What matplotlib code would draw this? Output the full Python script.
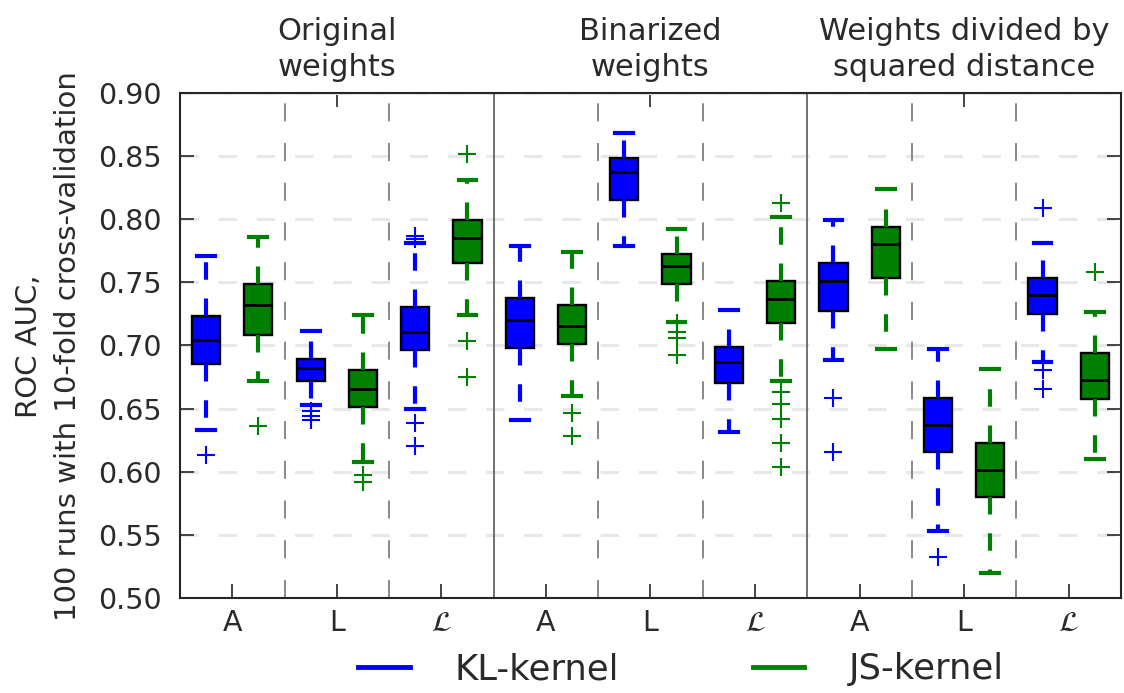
import matplotlib
matplotlib.use("Agg")
import matplotlib.pyplot as plt
from matplotlib.lines import Line2D
from matplotlib import transforms

# ---------------- data ----------------
group_labels = ["A", "L", r"$\mathcal{L}$"] * 3
panel_titles = ["Original\nweights", "Binarized\nweights", "Weights divided by\nsquared distance"]
series_names = ["KL-kernel", "JS-kernel"]
yticks = [0.50, 0.55, 0.60, 0.65, 0.70, 0.75, 0.80, 0.85, 0.90]

kl_q1 = [0.685, 0.672, 0.6963, 0.6984, 0.8152, 0.6703, 0.727, 0.6155, 0.7249]
kl_med = [0.704, 0.682, 0.711, 0.7203, 0.8372, 0.6869, 0.7511, 0.6369, 0.7398]
kl_q3 = [0.7235, 0.6896, 0.7302, 0.7377, 0.8487, 0.6989, 0.7652, 0.6583, 0.7537]
kl_lo = [0.633, 0.6527, 0.650, 0.6406, 0.7786, 0.6316, 0.6882, 0.5532, 0.6869]
kl_hi = [0.771, 0.7118, 0.781, 0.7786, 0.8687, 0.7283, 0.7997, 0.6976, 0.781]
kl_fliers = [[0.6135], [0.648, 0.644, 0.641], [0.7845, 0.787, 0.639, 0.6206], [], [], [],
             [0.6583, 0.6155], [0.5324], [0.8086, 0.6802, 0.6655]]

js_q1 = [0.7083, 0.6513, 0.7652, 0.7008, 0.7484, 0.7176, 0.7537, 0.580, 0.658]
js_med = [0.7324, 0.6655, 0.785, 0.7158, 0.7631, 0.7369, 0.780, 0.6013, 0.673]
js_q3 = [0.7489, 0.6802, 0.7992, 0.7324, 0.7725, 0.7511, 0.7939, 0.6227, 0.6941]
js_lo = [0.6717, 0.6075, 0.7243, 0.6602, 0.719, 0.6717, 0.6976, 0.5198, 0.6099]
js_hi = [0.7858, 0.7243, 0.8307, 0.7738, 0.7925, 0.8019, 0.8238, 0.6816, 0.7262]
js_fliers = [[0.6361], [0.5973, 0.592], [0.8513, 0.7035, 0.6754], [0.6468, 0.6281],
             [0.7175, 0.711, 0.706, 0.6922], [0.8131, 0.6634, 0.6535, 0.642, 0.6227, 0.604],
             [], [], [0.7583]]

KL_COLOR = "#0000ff"
JS_COLOR = "#008000"
TEXT_COLOR = "#2a2a2a"

plt.rcParams["font.family"] = ["DejaVu Sans"]
plt.rcParams["mathtext.fontset"] = "dejavusans"

fig = plt.figure(figsize=(11.24, 6.93), dpi=100)
ax = fig.add_axes([0.1601, 0.1371, 0.9973 - 0.1601, 0.8658 - 0.1371])

n = len(group_labels)
centers = list(range(1, n + 1))


def stats(q1, med, q3, lo, hi, fl):
    return [dict(q1=a, med=b, q3=c, whislo=d, whishi=e, fliers=f)
            for a, b, c, d, e, f in zip(q1, med, q3, lo, hi, fl)]


def draw(st, offset, color):
    ax.bxp(st, positions=[c + offset for c in centers], widths=0.27,
           capwidths=0.17, patch_artist=True, manage_ticks=False,
           boxprops=dict(facecolor=color, edgecolor="black", linewidth=1.7),
           medianprops=dict(color="black", linewidth=2.0),
           whiskerprops=dict(color=color, linewidth=3, linestyle=(0, (4.2, 4.5))),
           capprops=dict(color=color, linewidth=3),
           flierprops=dict(marker="+", markeredgecolor=color, markersize=13,
                           markeredgewidth=1.5, linestyle="none"),
           zorder=3)


draw(stats(kl_q1, kl_med, kl_q3, kl_lo, kl_hi, kl_fliers), -0.25, KL_COLOR)
draw(stats(js_q1, js_med, js_q3, js_lo, js_hi, js_fliers), 0.25, JS_COLOR)

ax.set_xlim(0.5, n + 0.5)
ax.set_ylim(0.50, 0.90)
ax.set_yticks(yticks)
ax.set_yticklabels([f"{v:.2f}" for v in yticks])
ax.set_xticks(centers)
ax.set_xticklabels(group_labels)

# horizontal grid
ax.yaxis.grid(True, color="#e8e8e8", linewidth=2.2, linestyle=(0, (6, 6.5)), zorder=0)
ax.set_axisbelow(True)

# separators
for b in [1.5, 2.5, 4.5, 5.5, 7.5, 8.5]:
    ax.axvline(b, color="0.5", linewidth=1.3, linestyle=(0, (10, 12)), zorder=1)
for b in [3.5, 6.5]:
    ax.axvline(b, color="0.4", linewidth=1.3, zorder=1)

ax.tick_params(axis="both", direction="in", length=10, width=1.2, colors="0.15",
               labelsize=20.5, labelcolor=TEXT_COLOR)
ax.tick_params(axis="y", right=True, pad=13)
ax.tick_params(axis="x", pad=8)
for s in ax.spines.values():
    s.set_linewidth(1.5)
    s.set_color("0.15")

top = ax.secondary_xaxis("top")
top.set_xticks([2, 5, 8])
top.set_xticklabels([])
top.tick_params(direction="in", length=10, width=1.2, colors="0.15")

# panel titles
trans = transforms.blended_transform_factory(ax.transData, ax.transAxes)
for i, t in enumerate(panel_titles):
    ax.text(2 + 3 * i, 1.0, t,
            transform=trans + transforms.ScaledTranslation(0, 8 / 72, fig.dpi_scale_trans),
            ha="center", va="bottom", fontsize=22, linespacing=1.3, color=TEXT_COLOR)

fig.text(0.0432, 0.5, "ROC AUC,\n100 runs with 10-fold cross-validation", rotation=90,
         ha="center", va="center", fontsize=21, linespacing=1.5, color=TEXT_COLOR,
         multialignment="center")

handles = [Line2D([], [], color=KL_COLOR, linewidth=3.5),
           Line2D([], [], color=JS_COLOR, linewidth=3.5)]
fig.legend(handles, series_names, loc="center", bbox_to_anchor=(0.606, 0.034), ncol=2,
           frameon=False, fontsize=25.5, handlelength=1.45, handletextpad=1.25,
           columnspacing=3.8, labelcolor=TEXT_COLOR)

fig.savefig("out.png", dpi=100)
